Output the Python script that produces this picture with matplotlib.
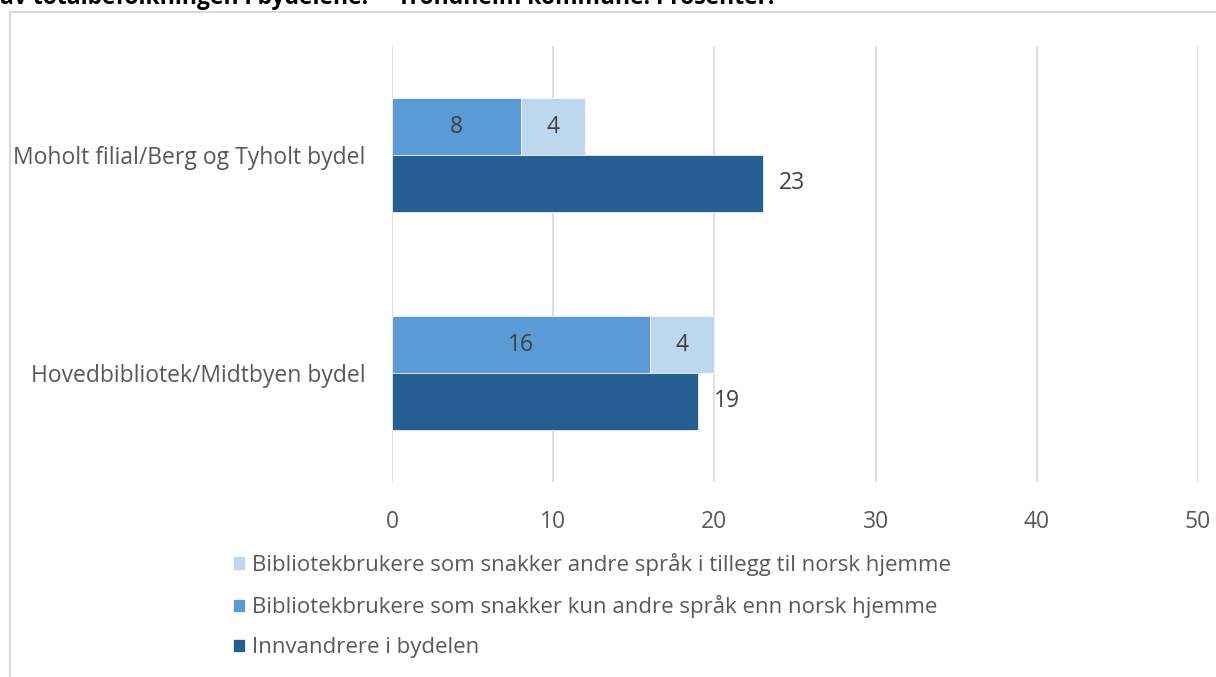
import numpy as np
import matplotlib.pyplot as plt
from matplotlib.patches import Rectangle

# Data (prosent av totalbefolkningen i bydelen)
categories = ["Hovedbibliotek/Midtbyen bydel", "Moholt filial/Berg og Tyholt bydel"]
kun_andre = [16, 8]
andre_i_tillegg = [4, 4]
innvandrere = [19, 23]

label_tillegg = "Bibliotekbrukere som snakker andre språk i tillegg til norsk hjemme"
label_kun = "Bibliotekbrukere som snakker kun andre språk enn norsk hjemme"
label_innv = "Innvandrere i bydelen"
title = "av totalbefolkningen i bydelene.  \u2013 Trondheim kommune. Prosenter."

c_light = "#BDD7EE"
c_mid = "#5B9BD5"
c_dark = "#255E91"
txt = "#595959"
fs = 16.5

plt.rcParams["font.family"] = ["Open Sans", "DejaVu Sans"]

W, H = 1216, 677
fig = plt.figure(figsize=(W / 100, H / 100), dpi=100)

# plot area in pixels: x 392..1198, y 46..482
ax = fig.add_axes([392 / W, 1 - 482 / H, (1198 - 392) / W, (482 - 46) / H])

y = np.arange(len(categories))
h = 0.26
ax.barh(y + h / 2, kun_andre, height=h, color=c_mid, edgecolor="white", linewidth=0.5,
        label=label_kun, zorder=3)
ax.barh(y + h / 2, andre_i_tillegg, left=kun_andre, height=h, color=c_light,
        edgecolor="white", linewidth=0.5, label=label_tillegg, zorder=3)
ax.barh(y - h / 2, innvandrere, height=h, color=c_dark, edgecolor="white", linewidth=0.5,
        label=label_innv, zorder=3)

for i in range(len(categories)):
    ax.text(kun_andre[i] / 2, y[i] + h / 2, str(kun_andre[i]), ha="center", va="center",
            fontsize=fs, color="#404040", zorder=4)
    ax.text(kun_andre[i] + andre_i_tillegg[i] / 2, y[i] + h / 2, str(andre_i_tillegg[i]),
            ha="center", va="center", fontsize=fs, color="#404040", zorder=4)
    ax.annotate(str(innvandrere[i]), (innvandrere[i], y[i] - h / 2), xytext=(16, 0),
                textcoords="offset pixels", ha="left", va="center", fontsize=fs,
                color="#404040")

ax.set_xlim(0, 50)
ax.set_ylim(-0.5, 1.5)
ax.set_xticks(np.arange(0, 51, 10))
ax.set_yticks(y)
ax.set_yticklabels(categories)
ax.tick_params(axis="both", length=0, labelsize=fs, colors=txt)
ax.tick_params(axis="x", pad=20)
ax.tick_params(axis="y", pad=19)
ax.grid(axis="x", color="#D9D9D9", linewidth=1.2, zorder=0)
for s in ax.spines.values():
    s.set_visible(False)

# legend, order as shown
handles, labels = ax.get_legend_handles_labels()
order = [1, 0, 2]
fig.legend([handles[k] for k in order], [labels[k] for k in order],
           loc="upper left", bbox_to_anchor=(213 / W, 1 - 533 / H),
           frameon=False, fontsize=16, handlelength=0.55, handleheight=0.55,
           handletextpad=0.3, labelspacing=0.86, labelcolor=txt)

# chart frame and clipped title
fig.patches.append(Rectangle((10 / W, -0.05), 1.1, 1 - 12 / H + 0.05,
                             transform=fig.transFigure, fill=False,
                             edgecolor="#D9D9D9", linewidth=1.5))
fig.text(0, 1 - 4 / H, title, ha="left", va="baseline", fontsize=16.5,
         fontweight="bold", color="black")

fig.savefig("out.png", dpi=100)
